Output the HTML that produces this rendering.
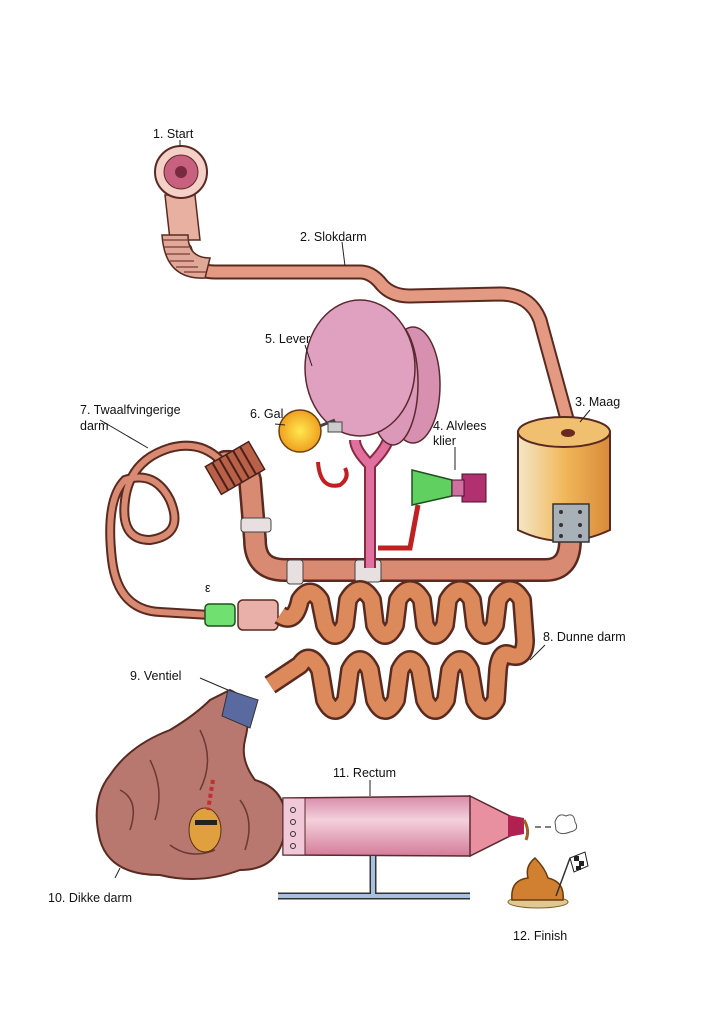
<!DOCTYPE html>
<html><head><meta charset="utf-8"><style>
html,body{margin:0;padding:0;background:#fff;}
svg{display:block;}
text{font-family:"Liberation Sans",sans-serif;font-size:12.5px;fill:#111;}
</style></head><body>
<svg width="724" height="1024" viewBox="0 0 724 1024" xmlns="http://www.w3.org/2000/svg">
<defs>
<linearGradient id="maag" x1="0" x2="1"><stop offset="0" stop-color="#f3e7c8"/><stop offset="0.5" stop-color="#f2b85a"/><stop offset="1" stop-color="#d88a3a"/></linearGradient>
<radialGradient id="gal"><stop offset="0" stop-color="#ffe850"/><stop offset="1" stop-color="#f0a020"/></radialGradient>
<linearGradient id="rect" x1="0" y1="0" x2="0" y2="1"><stop offset="0" stop-color="#d88aa8"/><stop offset="0.4" stop-color="#f3d0dc"/><stop offset="1" stop-color="#d47c9a"/></linearGradient>
</defs>
<rect width="724" height="1024" fill="#fff"/>

<!-- esophagus tube -->
<path d="M185 250 Q190 272 215 272 L360 272 Q372 272 382 285 Q392 296 410 296 L500 294 Q530 294 540 320 L570 430" fill="none" stroke="#5a2a20" stroke-width="15" stroke-linecap="round"/>
<path d="M185 250 Q190 272 215 272 L360 272 Q372 272 382 285 Q392 296 410 296 L500 294 Q530 294 540 320 L570 430" fill="none" stroke="#e49a82" stroke-width="11" stroke-linecap="round"/>
<!-- start horn -->
<path d="M165 195 L195 195 L200 240 L170 240 Z" fill="#e8b0a0" stroke="#5a2a20" stroke-width="1.5"/>
<path d="M162 235 Q165 280 205 278 L210 258 Q188 258 188 235 Z" fill="#e0a898" stroke="#5a2a20" stroke-width="1.5"/>
<g stroke="#7a3a30" stroke-width="1.2" fill="none">
<path d="M163 240 h26 M164 247 h25 M166 254 h24 M170 261 h24 M176 267 h22 M184 272 h22"/></g>
<ellipse cx="181" cy="172" rx="26" ry="26" fill="#f4d0c8" stroke="#5a2a20" stroke-width="2"/>
<circle cx="181" cy="172" r="17" fill="#c86080" stroke="#5a2a20" stroke-width="1"/>
<circle cx="181" cy="172" r="6" fill="#7a2a40"/>

<!-- tube from stomach to duodenum -->
<path d="M570 540 Q570 570 545 570 L285 570 Q255 570 255 540 L250 480 Q245 460 225 462" fill="none" stroke="#5a2a20" stroke-width="24" stroke-linecap="round"/>
<path d="M570 540 Q570 570 545 570 L285 570 Q255 570 255 540 L250 480 Q245 460 225 462" fill="none" stroke="#d98a72" stroke-width="19" stroke-linecap="round"/>
<!-- loop thin tube -->
<path d="M220 460 Q200 440 170 448 Q130 460 125 500 Q120 540 150 540 Q185 535 170 500 Q155 470 125 480 Q105 500 112 560 Q118 610 160 612 L210 615" fill="none" stroke="#5a2a20" stroke-width="10"/>
<path d="M220 460 Q200 440 170 448 Q130 460 125 500 Q120 540 150 540 Q185 535 170 500 Q155 470 125 480 Q105 500 112 560 Q118 610 160 612 L210 615" fill="none" stroke="#d98a72" stroke-width="6"/>
<!-- coil on duodenum -->
<g transform="rotate(-30 235 468)"><rect x="210" y="452" width="50" height="32" fill="#b86048" stroke="#4a2018" stroke-width="1.5"/>
<path d="M218 452 v32 M226 452 v32 M234 452 v32 M242 452 v32 M250 452 v32" stroke="#4a2018" stroke-width="2"/></g>
<rect x="241" y="518" width="30" height="14" rx="3" fill="#e8e0e0" stroke="#444"/>
<rect x="287" y="560" width="16" height="24" rx="3" fill="#e8e0e0" stroke="#444"/>
<rect x="355" y="560" width="26" height="22" rx="3" fill="#e8e0e0" stroke="#444"/>

<!-- stomach -->
<path d="M518 432 L518 530 Q563 552 610 530 L610 432 Z" fill="url(#maag)" stroke="#5a2a20" stroke-width="2"/>
<ellipse cx="564" cy="432" rx="46" ry="15" fill="#f0c070" stroke="#5a2a20" stroke-width="2"/>
<ellipse cx="568" cy="433" rx="7" ry="4" fill="#6a2a20"/>
<rect x="553" y="504" width="36" height="38" fill="#a8b0b8" stroke="#333" stroke-width="1.5"/>
<g fill="#333"><circle cx="561" cy="512" r="2"/><circle cx="580" cy="512" r="2"/><circle cx="561" cy="525" r="2"/><circle cx="580" cy="525" r="2"/><circle cx="561" cy="536" r="2"/><circle cx="580" cy="536" r="2"/></g>

<!-- liver duct -->
<path d="M370 568 L370 465 M370 465 Q355 450 355 440 M370 465 Q385 450 388 440" fill="none" stroke="#8a2a40" stroke-width="12"/>
<path d="M370 568 L370 465 M370 465 Q355 450 355 440 M370 465 Q385 450 388 440" fill="none" stroke="#e070a0" stroke-width="8"/>
<path d="M378 548 L410 548 L418 505" fill="none" stroke="#c02020" stroke-width="5"/>
<path d="M318 462 Q320 490 340 485 Q350 478 345 468" fill="none" stroke="#c02020" stroke-width="4"/>
<!-- liver -->
<ellipse cx="413" cy="385" rx="27" ry="58" fill="#d890b0" stroke="#5a2a30" stroke-width="1.5"/>
<ellipse cx="393" cy="383" rx="25" ry="62" fill="#dc98b8" stroke="#5a2a30" stroke-width="1.5"/>
<ellipse cx="360" cy="368" rx="55" ry="68" fill="#e0a0c0" stroke="#5a2a30" stroke-width="1.5"/>
<!-- gall -->
<line x1="315" y1="428" x2="335" y2="420" stroke="#444" stroke-width="3"/>
<rect x="328" y="422" width="14" height="10" fill="#ccc" stroke="#444"/>
<circle cx="300" cy="431" r="21" fill="url(#gal)" stroke="#6a4010" stroke-width="1.5"/>
<!-- pancreas -->
<path d="M412 470 L452 480 L452 496 L412 505 Z" fill="#60d060" stroke="#205020" stroke-width="1.5"/>
<rect x="462" y="474" width="24" height="28" fill="#b03070" stroke="#4a1030"/>
<rect x="452" y="480" width="12" height="16" fill="#d070a0" stroke="#4a1030"/>

<!-- valve/green cylinder -->
<rect x="205" y="604" width="30" height="22" rx="4" fill="#70e070" stroke="#205020" stroke-width="1.5"/>
<rect x="238" y="600" width="40" height="30" rx="5" fill="#e8b0a8" stroke="#5a2a20" stroke-width="1.5"/>
<text x="205" y="592" font-size="10">ε</text>

<!-- small intestine -->
<path d="M280 615 Q295 625 300 600 Q310 585 320 600 L325 625 Q335 645 345 625 L348 600 Q360 580 372 600 L375 625 Q385 645 395 625 L398 600 Q410 580 422 600 L425 625 Q435 645 445 625 L448 600 Q460 580 472 600 L475 625 Q485 645 495 625 L498 600 Q510 580 522 600 L525 640 Q525 660 510 655 Q500 650 498 670 L496 700 Q485 720 475 700 L470 670 Q460 650 450 670 L446 700 Q435 720 425 700 L420 670 Q410 650 400 670 L396 700 Q385 720 375 700 L370 670 Q360 650 350 670 L346 700 Q335 720 325 700 L320 670 Q310 650 300 665 Q285 675 270 685" fill="none" stroke="#5a2a20" stroke-width="20" stroke-linejoin="round"/>
<path d="M280 615 Q295 625 300 600 Q310 585 320 600 L325 625 Q335 645 345 625 L348 600 Q360 580 372 600 L375 625 Q385 645 395 625 L398 600 Q410 580 422 600 L425 625 Q435 645 445 625 L448 600 Q460 580 472 600 L475 625 Q485 645 495 625 L498 600 Q510 580 522 600 L525 640 Q525 660 510 655 Q500 650 498 670 L496 700 Q485 720 475 700 L470 670 Q460 650 450 670 L446 700 Q435 720 425 700 L420 670 Q410 650 400 670 L396 700 Q385 720 375 700 L370 670 Q360 650 350 670 L346 700 Q335 720 325 700 L320 670 Q310 650 300 665 Q285 675 270 685" fill="none" stroke="#dc8a5c" stroke-width="15" stroke-linejoin="round"/>

<!-- large intestine -->
<path d="M230 690 Q255 700 245 740 Q240 760 255 780 Q290 790 285 830 Q280 870 240 870 Q200 885 160 875 Q110 875 100 840 Q90 800 110 775 Q130 745 170 730 Q195 715 210 700 Z" fill="#b87870" stroke="#5a2a20" stroke-width="2"/>
<path d="M120 790 Q140 800 130 830 M150 760 Q165 790 155 820 M200 730 Q215 760 200 790 M240 800 Q255 820 245 850 M170 845 Q190 860 215 850" fill="none" stroke="#6a3a30" stroke-width="1.5"/>
<path d="M228 690 L258 700 L250 728 L222 716 Z" fill="#5a6aa0" stroke="#333"/>
<ellipse cx="205" cy="830" rx="16" ry="22" fill="#e0a040" stroke="#5a3010"/>
<line x1="213" y1="780" x2="208" y2="810" stroke="#c03030" stroke-width="4" stroke-dasharray="4 3"/>
<rect x="195" y="820" width="22" height="5" fill="#222"/>

<!-- rectum -->
<path d="M283 798 L470 796 Q480 826 470 856 L283 855 Z" fill="url(#rect)" stroke="#5a2a30" stroke-width="1.5"/>
<path d="M283 798 L305 798 L305 855 L283 855 Z" fill="#f0c8d8" stroke="#5a2a30"/>
<g fill="none" stroke="#333"><circle cx="293" cy="810" r="2.5"/><circle cx="293" cy="822" r="2.5"/><circle cx="293" cy="834" r="2.5"/><circle cx="293" cy="846" r="2.5"/></g>
<path d="M470 796 Q490 806 518 820 Q520 826 518 832 Q490 846 470 856 Z" fill="#e890a0" stroke="#5a2a30" stroke-width="1.5"/>
<path d="M508 815 L524 818 L524 834 L508 837 Z" fill="#b02050"/>
<path d="M524 820 Q530 830 526 840" fill="none" stroke="#a06020" stroke-width="3"/>
<!-- stand -->
<path d="M373 856 L373 895 M278 896 L470 896" stroke="#333" stroke-width="7"/>
<path d="M373 856 L373 895 M278 896 L470 896" stroke="#a8c0e0" stroke-width="4"/>
<!-- fart cloud -->
<path d="M535 827 h6 M545 827 h6" stroke="#555" stroke-width="1.5"/>
<path d="M555 822 Q558 812 566 816 Q574 812 575 822 Q580 830 570 832 Q560 836 556 830 Z" fill="#fff" stroke="#555"/>
<!-- poop -->
<ellipse cx="538" cy="902" rx="30" ry="6" fill="#e0c890" stroke="#806030"/>
<path d="M512 900 Q510 880 528 878 Q525 866 535 858 Q545 868 548 878 Q565 882 563 900 Z" fill="#d08030" stroke="#6a3a10" stroke-width="1.5"/>
<line x1="556" y1="896" x2="570" y2="858" stroke="#333" stroke-width="1.5"/>
<path d="M570 858 L585 852 L588 866 L574 872 Z" fill="#fff" stroke="#222"/>
<path d="M574 856 h5 v5 h-5z M579 861 h5 v5 h-5z M576 866 h5 v4 h-5z" fill="#222"/>

<!-- labels & leader lines -->
<g stroke="#222" stroke-width="1" fill="none">
<line x1="180" y1="140" x2="180" y2="147"/>
<line x1="342" y1="242" x2="345" y2="266"/>
<line x1="590" y1="410" x2="580" y2="422"/>
<line x1="305" y1="345" x2="312" y2="366"/>
<line x1="455" y1="447" x2="455" y2="470"/>
<line x1="275" y1="424" x2="285" y2="425"/>
<line x1="100" y1="420" x2="148" y2="448"/>
<line x1="545" y1="645" x2="530" y2="660"/>
<line x1="200" y1="678" x2="228" y2="690"/>
<line x1="370" y1="780" x2="370" y2="796"/>
<line x1="115" y1="878" x2="120" y2="868"/>
</g>
<text x="153" y="138">1. Start</text>
<text x="300" y="241">2. Slokdarm</text>
<text x="575" y="406">3. Maag</text>
<text x="433" y="430">4. Alvlees</text>
<text x="433" y="445">klier</text>
<text x="265" y="343">5. Lever</text>
<text x="250" y="418">6. Gal</text>
<text x="80" y="414">7. Twaalfvingerige</text>
<text x="80" y="430">darm</text>
<text x="543" y="641">8. Dunne darm</text>
<text x="130" y="680">9. Ventiel</text>
<text x="333" y="777">11. Rectum</text>
<text x="48" y="902">10. Dikke darm</text>
<text x="513" y="940">12. Finish</text>
</svg>
</body></html>
